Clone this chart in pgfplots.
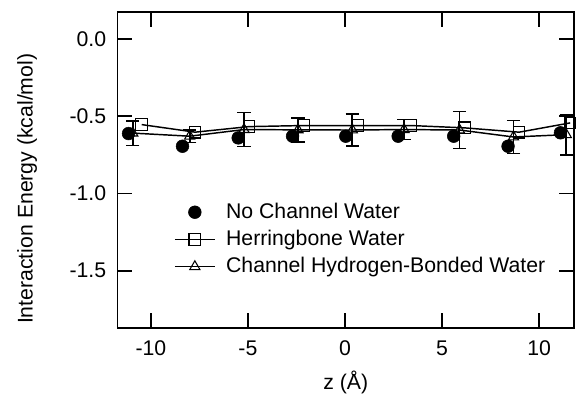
\documentclass[border=0pt]{standalone}
\usepackage{fontspec}
\setmainfont{Liberation Sans}
\usepackage{pgfplots}
\pgfplotsset{compat=1.18}

\begin{document}
\fontsize{16}{19}\selectfont
\begin{tikzpicture}
\begin{axis}[
scale only axis=true,
width=344pt, height=238pt,
xmin=-11.72, xmax=11.8,
ymin=-1.87, ymax=0.174,
xtick={-10,-5,0,5,10},
ytick={0,-0.5,-1,-1.5},
yticklabels={0.0,-0.5,-1.0,-1.5},
/pgf/number format/assume math mode=true,
tick align=inside,
major tick length=11pt,
tick style={line width=1.3pt, black},
axis line style={line width=1.4pt},
xlabel={z (Å)},
ylabel={Interaction Energy (kcal/mol)},
every axis x label/.style={at={(axis description cs:0.5,0)}, yshift=-41pt, anchor=center},
every axis y label/.style={at={(axis description cs:0,0.44)}, xshift=-68pt, rotate=90, anchor=center},
tick label style={font=\fontsize{16}{19}\selectfont},
xticklabel style={yshift=-4pt},
yticklabel style={xshift=-3pt},
label style={font=\fontsize{16}{19}\selectfont},
legend style={draw=none, fill=none, at={(0.115,0.413)}, anchor=north west,
  font=\fontsize{16}{19}\selectfont, row sep=2.5pt, column sep=6pt,
  cells={anchor=west}},
legend image code/.code={\draw[mark repeat=2,mark phase=2,#1]
  plot coordinates {(0pt,0pt) (15pt,0pt) (30pt,0pt)};},
]
% no channel water
\addplot[only marks, mark=*, mark size=4.8pt, black] coordinates {
(-11.15,-0.613) (-8.37,-0.695) (-5.5,-0.641) (-2.7,-0.63) (0.04,-0.63)
(2.74,-0.63) (5.6,-0.63) (8.4,-0.695) (11.1,-0.608)
};
\addlegendentry{No Channel Water}
% herringbone water
\addplot[line width=1.1pt, black, mark=square, mark size=4.4pt,
  mark options={fill=white, line width=0.8pt}] coordinates {
(-10.47,-0.555) (-7.72,-0.604) (-4.95,-0.568) (-2.13,-0.561) (0.65,-0.561)
(3.39,-0.561) (6.15,-0.576) (8.97,-0.604) (11.6,-0.544)
};
\addlegendentry{Herringbone Water}
% channel hydrogen-bonded water
\addplot[line width=1.1pt, black, mark=triangle, mark size=4.4pt,
  mark options={fill=white, line width=0.8pt},
  error bars/.cd, y dir=both, y explicit,
  error mark options={rotate=90, mark size=5pt, line width=1.3pt},
  error bar style={line width=1.3pt}] coordinates {
(-10.93,-0.61) +- (0,0.08)
(-8.0,-0.63) +- (0,0.04)
(-5.2,-0.587) +- (0,0.11)
(-2.42,-0.589) +- (0,0.077)
(0.38,-0.59) +- (0,0.105)
(3.04,-0.587) +- (0,0.065)
(5.9,-0.59) +- (0,0.12)
(8.68,-0.635) +- (0,0.107)
(11.4,-0.62) +- (0,0.13)
};
\addlegendentry{Channel Hydrogen-Bonded Water}
\end{axis}
% keep the white margins of the reference
\path ([yshift=9pt]current axis.north) ([yshift=-60pt]current axis.south)
  ([xshift=-88.5pt]current axis.west);
\end{tikzpicture}
\end{document}
